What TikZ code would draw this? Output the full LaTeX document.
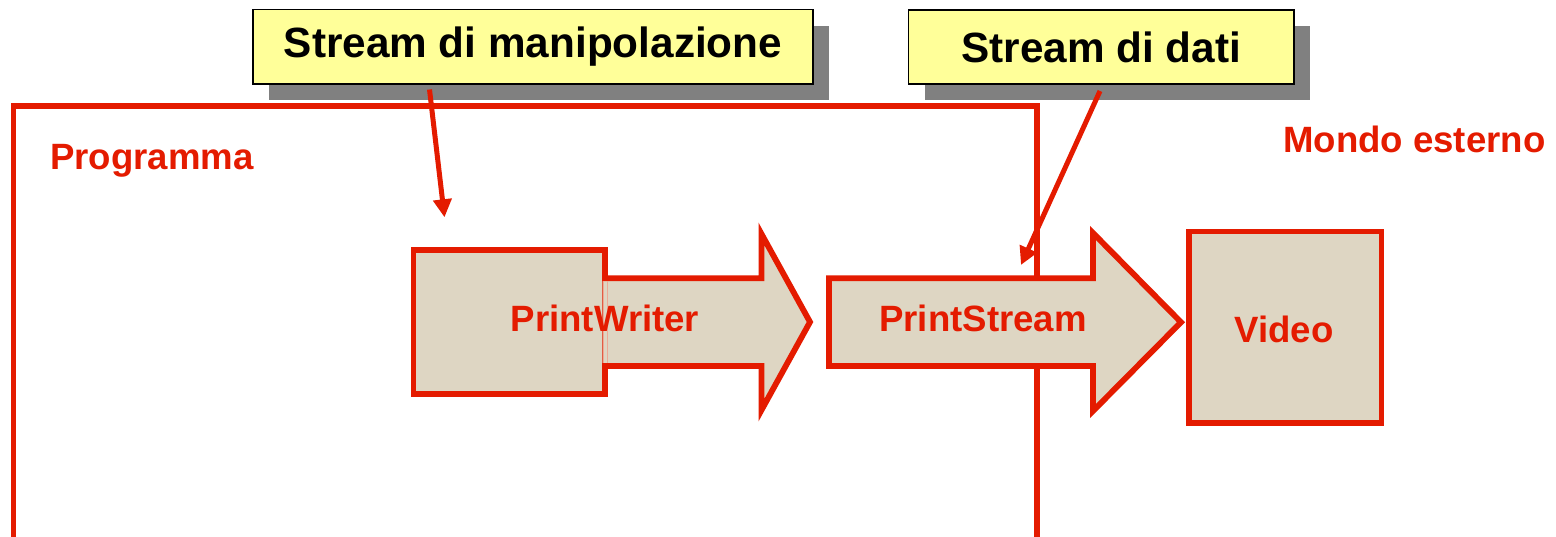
\documentclass[tikz,border=0pt]{standalone}
\usepackage{fontspec}
\setmainfont{Liberation Sans}
\usetikzlibrary{arrows.meta,shadows,calc}
\definecolor{streamred}{RGB}{228,27,0}
\definecolor{boxbeige}{RGB}{222,214,195}
\definecolor{noteyellow}{RGB}{255,255,153}
\definecolor{notegray}{RGB}{128,128,128}
\definecolor{seam}{RGB}{236,170,150}
\tikzset{
  redline/.style={draw=streamred, line width=5.8pt, line join=miter},
  block/.style={redline, fill=boxbeige, inner sep=0pt, outer sep=0pt},
  label/.style={text=streamred, font=\bfseries\fontsize{36.6pt}{40pt}\selectfont, inner sep=0pt},
  note/.style={draw=black, line width=1.6pt, fill=noteyellow, inner sep=0pt, outer sep=0pt,
    font=\bfseries\fontsize{42.3pt}{48pt}\selectfont,
    drop shadow={shadow xshift=16pt, shadow yshift=-16pt, opacity=1, fill=notegray}},
  pointer/.style={draw=streamred, line width=5pt, -{Triangle[length=18pt,width=18pt]}}
}
\begin{document}
\begin{tikzpicture}[x=1pt, y=-1pt]
\useasboundingbox (0,0) rectangle (1556,536);
\begin{scope}
\clip (0,0) rectangle (1556,536);

% program boundary
\node[redline, fill=white, minimum width=1023.5pt, minimum height=460pt, inner sep=0pt,
      outer sep=0pt, anchor=north west] (prog) at (13.5,106) {};
\node[label, anchor=base west] (progl) at (50,169) {Programma};
\node[label, anchor=base west] (extl) at (1283,152.5) {Mondo esterno};

% callouts
\node[note, minimum width=560pt, minimum height=74.5pt] (manip) at (533,46.75) {Stream di manipolazione};
\node[note, minimum width=385.5pt, minimum height=74pt] (dati) at (1101.25,47) {Stream di dati};

% pointers from the callouts
\coordinate (m0) at ($(manip.south)+(-103.5,5.5)$);
\coordinate (m1) at (444.5,217.3);
\coordinate (d0) at ($(dati.south)+(-1.25,7)$);
\coordinate (d1) at (1021,265);
\draw[pointer] (m0) -- (m1);
\draw[pointer] (d0) -- (d1);

% PrintWriter: box plus arrow
\node[block, minimum width=191.5pt, minimum height=144pt] (pwbox) at (509.25,322) {};
\fill[boxbeige] (602.7,278.3) -- (761.5,278.3) -- (761.5,234) -- (810,322)
   -- (761.5,410) -- (761.5,366) -- (602.7,366) -- cycle;
\draw[redline] (602.1,278.3) -- (761.5,278.3) -- (761.5,234) -- (810,322)
   -- (761.5,410) -- (761.5,366) -- (602.1,366);
\draw[seam, line width=0.8pt] (603.2,281.2) -- (603.2,363.1) (607.6,281.2) -- (607.6,363.1);
\node[label] (pw) at (605,318) {PrintWriter};

% PrintStream arrow
\draw[redline, fill=boxbeige] (829,278.3) -- (1093,278.3) -- (1093,233) -- (1181,322.2)
   -- (1093,411) -- (1093,366) -- (829,366) -- cycle;
\node[label] (ps) at (983,318) {PrintStream};

% output device
\node[block, minimum width=192.5pt, minimum height=191.5pt] (video) at (1285.25,327.25) {};
\node[label] (vl) at (1284,329) {Video};
\end{scope}
\end{tikzpicture}
\end{document}
